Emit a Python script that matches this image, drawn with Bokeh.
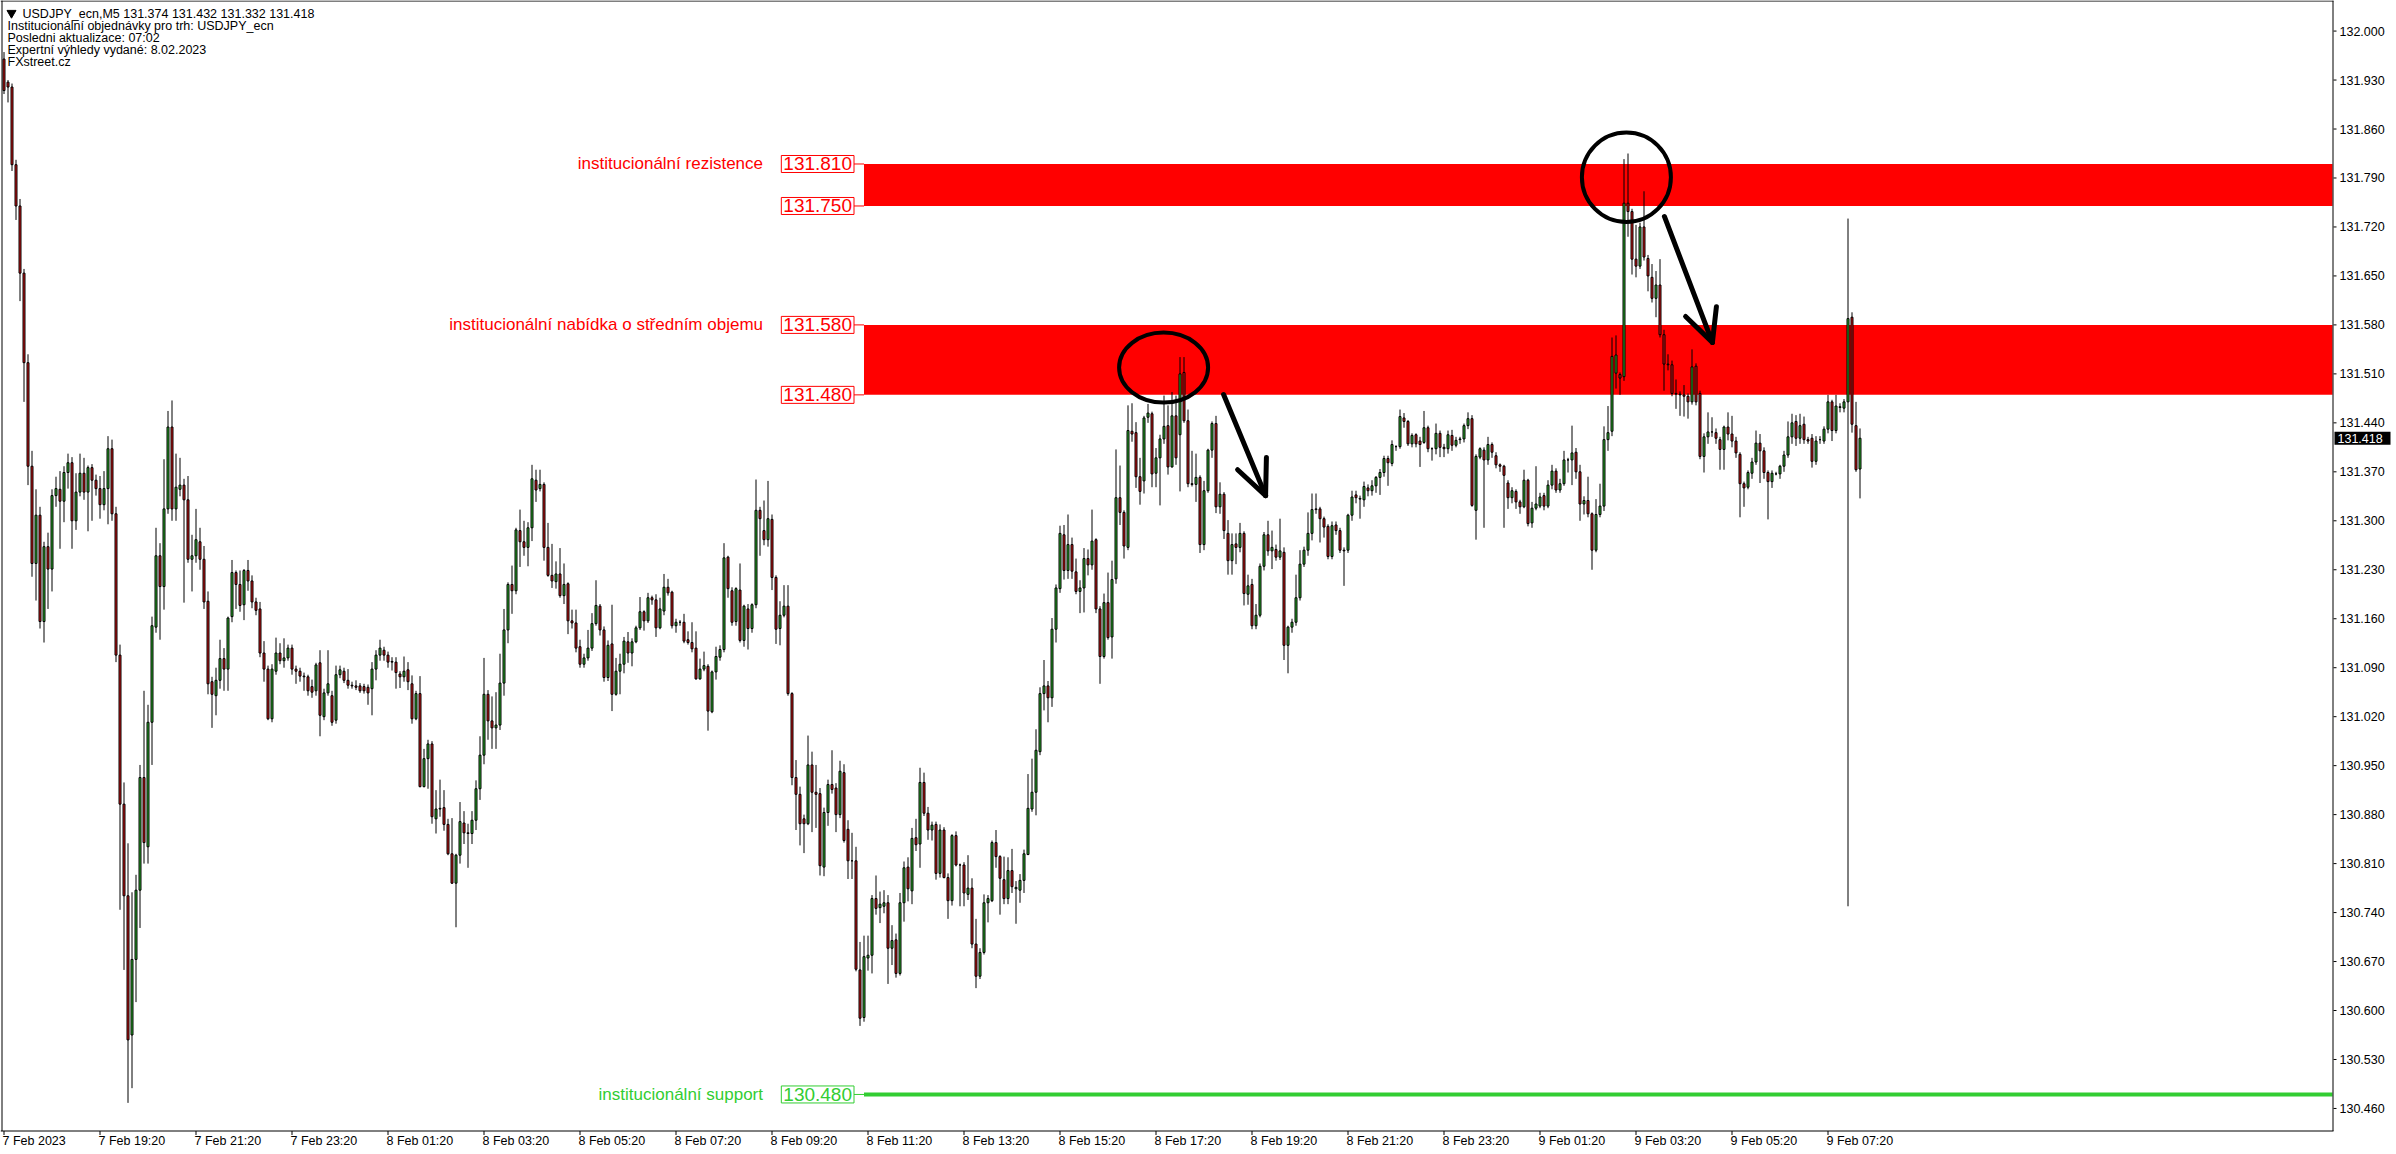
from bokeh.plotting import figure
from bokeh.models import Range1d, Label
from bokeh.core.properties import value
from bokeh.embed import file_html
from bokeh.resources import INLINE

# ---------------- data: USDJPY_ecn M5, bar index 0 = 7 Feb 17:20 ----------------
opens = [
    131.960, 131.927, 131.920, 131.809, 131.750, 131.654, 131.526, 131.378, 131.239, 131.308,
    131.156, 131.263, 131.231, 131.336, 131.345, 131.328, 131.369, 131.383, 131.300, 131.341,
    131.368, 131.341, 131.376, 131.358, 131.346, 131.323, 131.346, 131.403, 131.310, 131.108,
    130.895, 130.764, 130.565, 130.673, 130.772, 130.933, 130.834, 131.012, 131.148, 131.250,
    131.206, 131.317, 131.434, 131.317, 131.345, 131.351, 131.330, 131.245, 131.250, 131.270,
    131.245, 131.185, 131.070, 131.050, 131.072, 131.103, 131.088, 131.163, 131.226, 131.209,
    131.180, 131.229, 131.214, 131.184, 131.174, 131.111, 131.088, 131.017, 131.085, 131.111,
    131.100, 131.104, 131.118, 131.088, 131.085, 131.078, 131.077, 131.063, 131.057, 131.097,
    131.020, 131.054, 131.050, 131.015, 131.080, 131.085, 131.072, 131.065, 131.064, 131.064,
    131.063, 131.062, 131.060, 131.088, 131.108,
    131.115, 131.108, 131.099, 131.098, 131.081, 131.077, 131.087, 131.067, 131.017, 131.053,
    130.920, 130.960, 130.981, 130.874, 130.888, 130.890, 130.866, 130.824, 130.782, 130.822,
    130.868, 130.854, 130.853, 130.872, 130.917, 130.965, 131.052, 131.014, 131.004, 131.008,
    131.068, 131.144, 131.209, 131.200, 131.286, 131.270, 131.262, 131.290, 131.358, 131.346,
    131.352, 131.262, 131.222, 131.213, 131.224, 131.193, 131.210, 131.157, 131.154, 131.120,
    131.095, 131.104, 131.118, 131.153, 131.178, 131.144, 131.076, 131.124, 131.052, 131.085,
    131.095, 131.127, 131.111, 131.127, 131.147, 131.170, 131.157, 131.190, 131.187, 131.147,
    131.171, 131.205, 131.198, 131.150, 131.155, 131.155, 131.130, 131.126, 131.118, 131.074,
    131.088, 131.092, 131.027, 131.084, 131.105, 131.116, 131.248, 131.200, 131.156, 131.201,
    131.129, 131.174, 131.146, 131.180, 131.315,
    131.286, 131.273, 131.302, 131.219, 131.146, 131.165, 131.178, 131.053, 130.933, 130.909,
    130.874, 130.867, 130.951, 130.912, 130.910, 130.805, 130.883, 130.923, 130.918, 130.880,
    130.940, 130.859, 130.814, 130.814, 130.658, 130.590, 130.675, 130.679, 130.760, 130.747,
    130.749, 130.754, 130.689, 130.701, 130.653, 130.754, 130.805, 130.771, 130.847, 130.838,
    130.926, 130.882, 130.858, 130.866, 130.796, 130.858, 130.790, 130.757, 130.850, 130.808,
    130.808, 130.766, 130.775, 130.695, 130.649, 130.683, 130.754, 130.757, 130.840, 130.820,
    130.787, 130.760, 130.800, 130.774, 130.772, 130.786, 130.823, 130.888, 130.912, 130.970,
    131.053, 131.064, 131.047, 131.145, 131.203, 131.280, 131.229, 131.266, 131.227, 131.199,
    131.204, 131.246, 131.237, 131.273, 131.174, 131.106, 131.183, 131.134, 131.217, 131.333,
    131.312, 131.262, 131.428, 131.426, 131.363,
    131.357, 131.448, 131.453, 131.368, 131.390, 131.417, 131.436, 131.377, 131.450, 131.423,
    131.512, 131.443, 131.353, 131.352, 131.362, 131.266, 131.343, 131.401, 131.439, 131.320,
    131.338, 131.282, 131.243, 131.267, 131.262, 131.282, 131.195, 131.209, 131.150, 131.165,
    131.235, 131.280, 131.257, 131.259, 131.248, 131.255, 131.122, 131.148, 131.155, 131.190,
    131.238, 131.258, 131.282, 131.316, 131.317, 131.303, 131.292, 131.249, 131.294, 131.286,
    131.258, 131.258, 131.308, 131.337, 131.331, 131.330, 131.347, 131.343, 131.350, 131.362,
    131.369, 131.389, 131.382, 131.406, 131.406, 131.447, 131.442, 131.410, 131.423, 131.414,
    131.412, 131.433, 131.403, 131.403, 131.425, 131.405, 131.403, 131.422, 131.408, 131.416,
    131.417, 131.436, 131.446, 131.315, 131.391, 131.401, 131.387, 131.409, 131.393, 131.380,
    131.378, 131.354, 131.333, 131.342, 131.327,
    131.320, 131.358, 131.297, 131.318, 131.321, 131.336, 131.321, 131.351, 131.371, 131.344,
    131.353, 131.387, 131.387, 131.398, 131.370, 131.324, 131.329, 131.310, 131.258, 131.309,
    131.321, 131.416, 131.428, 131.511, 131.509, 131.506, 131.754, 131.742, 131.674, 131.664,
    131.720, 131.675, 131.648, 131.618, 131.637, 131.566, 131.524, 131.523, 131.482, 131.480,
    131.480, 131.478, 131.470, 131.521, 131.482, 131.392, 131.420, 131.427, 131.426, 131.416,
    131.402, 131.434, 131.424, 131.414, 131.395, 131.353, 131.348, 131.368, 131.384, 131.411,
    131.400, 131.369, 131.356, 131.367, 131.367, 131.378, 131.394, 131.420, 131.442, 131.418,
    131.438, 131.416, 131.418, 131.385, 131.416, 131.414, 131.431, 131.470, 131.429, 131.462,
    131.461, 131.470, 131.591, 131.436, 131.374,
]

highs = [
    131.970, 131.930, 131.925, 131.816, 131.760, 131.660, 131.538, 131.400, 131.345, 131.320,
    131.270, 131.283, 131.345, 131.363, 131.371, 131.378, 131.396, 131.391, 131.368, 131.396,
    131.390, 131.379, 131.381, 131.366, 131.364, 131.371, 131.421, 131.416, 131.320, 131.123,
    130.926, 130.839, 130.769, 130.794, 130.951, 131.057, 131.037, 131.163, 131.290, 131.268,
    131.388, 131.457, 131.472, 131.396, 131.390, 131.360, 131.364, 131.280, 131.317, 131.290,
    131.264, 131.199, 131.077, 131.090, 131.130, 131.118, 131.163, 131.244, 131.229, 131.229,
    131.231, 131.244, 131.222, 131.190, 131.184, 131.128, 131.093, 131.095, 131.133, 131.125,
    131.132, 131.123, 131.123, 131.093, 131.090, 131.083, 131.080, 131.073, 131.097, 131.115,
    131.060, 131.115, 131.057, 131.093, 131.093, 131.090, 131.088, 131.070, 131.072, 131.068,
    131.067, 131.066, 131.098, 131.115, 131.130,
    131.120, 131.113, 131.105, 131.105, 131.085, 131.106, 131.098, 131.079, 131.057, 131.078,
    130.974, 130.987, 130.985, 130.915, 130.930, 130.915, 130.874, 130.875, 130.824, 130.898,
    130.885, 130.867, 130.885, 130.929, 130.992, 131.104, 131.058, 131.049, 131.055, 131.110,
    131.174, 131.212, 131.236, 131.290, 131.316, 131.300, 131.298, 131.380, 131.373, 131.373,
    131.355, 131.297, 131.267, 131.242, 131.261, 131.239, 131.212, 131.173, 131.173, 131.130,
    131.110, 131.144, 131.168, 131.215, 131.181, 131.149, 131.129, 131.180, 131.104, 131.110,
    131.134, 131.141, 131.132, 131.150, 131.191, 131.172, 131.197, 131.193, 131.195, 131.190,
    131.224, 131.217, 131.200, 131.160, 131.158, 131.167, 131.142, 131.155, 131.142, 131.103,
    131.113, 131.095, 131.086, 131.120, 131.122, 131.268, 131.250, 131.205, 131.205, 131.239,
    131.180, 131.181, 131.182, 131.359, 131.320,
    131.329, 131.357, 131.309, 131.222, 131.185, 131.208, 131.208, 131.055, 130.958, 130.920,
    130.880, 130.993, 130.970, 130.951, 130.918, 130.890, 130.930, 130.972, 130.925, 130.957,
    130.952, 130.872, 130.854, 130.834, 130.698, 130.707, 130.707, 130.765, 130.793, 130.770,
    130.772, 130.765, 130.722, 130.710, 130.768, 130.813, 130.819, 130.861, 130.874, 130.947,
    130.940, 130.891, 130.870, 130.870, 130.866, 130.862, 130.796, 130.852, 130.856, 130.810,
    130.812, 130.822, 130.789, 130.731, 130.689, 130.766, 130.765, 130.843, 130.858, 130.822,
    130.820, 130.819, 130.831, 130.785, 130.795, 130.830, 130.938, 130.960, 131.002, 131.062,
    131.101, 131.071, 131.161, 131.209, 131.293, 131.294, 131.309, 131.276, 131.246, 131.215,
    131.261, 131.259, 131.316, 131.275, 131.178, 131.196, 131.226, 131.243, 131.402, 131.379,
    131.315, 131.465, 131.468, 131.441, 131.390,
    131.450, 131.467, 131.456, 131.404, 131.423, 131.479, 131.465, 131.484, 131.479, 131.534,
    131.534, 131.459, 131.400, 131.396, 131.365, 131.357, 131.403, 131.442, 131.450, 131.355,
    131.341, 131.301, 131.282, 131.282, 131.297, 131.285, 131.223, 131.217, 131.181, 131.239,
    131.284, 131.300, 131.286, 131.266, 131.303, 131.262, 131.150, 131.160, 131.223, 131.258,
    131.263, 131.312, 131.339, 131.339, 131.320, 131.306, 131.295, 131.299, 131.299, 131.290,
    131.262, 131.310, 131.343, 131.343, 131.336, 131.356, 131.352, 131.358, 131.364, 131.374,
    131.393, 131.393, 131.415, 131.408, 131.459, 131.454, 131.444, 131.425, 131.425, 131.420,
    131.457, 131.436, 131.405, 131.439, 131.429, 131.410, 131.429, 131.430, 131.420, 131.420,
    131.439, 131.455, 131.451, 131.395, 131.405, 131.405, 131.420, 131.412, 131.398, 131.382,
    131.380, 131.358, 131.348, 131.345, 131.330,
    131.373, 131.360, 131.327, 131.378, 131.340, 131.340, 131.358, 131.380, 131.375, 131.360,
    131.400, 131.390, 131.436, 131.404, 131.380, 131.335, 131.363, 131.312, 131.331, 131.353,
    131.435, 131.464, 131.562, 131.565, 131.512, 131.817, 131.825, 131.746, 131.723, 131.726,
    131.771, 131.680, 131.667, 131.657, 131.674, 131.573, 131.538, 131.529, 131.502, 131.485,
    131.494, 131.482, 131.545, 131.525, 131.486, 131.425, 131.455, 131.448, 131.432, 131.420,
    131.436, 131.455, 131.450, 131.420, 131.398, 131.356, 131.372, 131.390, 131.429, 131.424,
    131.405, 131.372, 131.372, 131.370, 131.380, 131.400, 131.442, 131.453, 131.451, 131.453,
    131.449, 131.420, 131.424, 131.421, 131.421, 131.435, 131.480, 131.473, 131.480, 131.468,
    131.474, 131.732, 131.598, 131.470, 131.432,
]

lows = [
    131.910, 131.898, 131.800, 131.730, 131.614, 131.470, 131.351, 131.220, 131.186, 131.146,
    131.126, 131.174, 131.199, 131.320, 131.260, 131.298, 131.346, 131.260, 131.287, 131.335,
    131.330, 131.285, 131.300, 131.336, 131.303, 131.315, 131.295, 131.300, 131.098, 130.744,
    130.658, 130.468, 130.489, 130.612, 130.718, 130.810, 130.810, 130.951, 131.140, 131.130,
    131.173, 131.310, 131.300, 131.300, 131.335, 131.183, 131.240, 131.199, 131.240, 131.230,
    131.174, 131.052, 131.004, 131.022, 131.060, 131.057, 131.057, 131.155, 131.174, 131.170,
    131.158, 131.200, 131.175, 131.165, 131.105, 131.070, 131.015, 131.012, 131.080, 131.095,
    131.090, 131.100, 131.080, 131.067, 131.070, 131.057, 131.050, 131.047, 131.050, 130.992,
    131.015, 131.050, 131.007, 131.010, 131.075, 131.068, 131.060, 131.060, 131.058, 131.054,
    131.053, 131.037, 131.022, 131.072, 131.100,
    131.100, 131.090, 131.086, 131.060, 131.061, 131.070, 131.058, 131.010, 131.015, 130.919,
    130.919, 130.917, 130.867, 130.853, 130.877, 130.857, 130.822, 130.781, 130.719, 130.810,
    130.838, 130.804, 130.838, 130.858, 130.901, 130.952, 130.987, 130.974, 130.974, 131.001,
    131.050, 131.125, 131.167, 131.195, 131.234, 131.250, 131.235, 131.271, 131.327, 131.342,
    131.243, 131.220, 131.204, 131.203, 131.190, 131.181, 131.138, 131.146, 131.112, 131.090,
    131.090, 131.100, 131.114, 131.150, 131.136, 131.070, 131.071, 131.028, 131.050, 131.052,
    131.082, 131.097, 131.092, 131.125, 131.144, 131.143, 131.154, 131.180, 131.134, 131.145,
    131.165, 131.193, 131.146, 131.140, 131.150, 131.125, 131.123, 131.112, 131.073, 131.073,
    131.085, 131.000, 131.025, 131.073, 131.100, 131.112, 131.190, 131.150, 131.150, 131.126,
    131.120, 131.116, 131.140, 131.175, 131.250,
    131.265, 131.263, 131.201, 131.124, 131.122, 131.162, 131.050, 130.922, 130.858, 130.836,
    130.825, 130.865, 130.855, 130.861, 130.793, 130.792, 130.864, 130.910, 130.855, 130.875,
    130.840, 130.788, 130.788, 130.656, 130.578, 130.584, 130.657, 130.653, 130.737, 130.725,
    130.739, 130.638, 130.665, 130.647, 130.650, 130.727, 130.756, 130.752, 130.828, 130.804,
    130.878, 130.844, 130.843, 130.787, 130.790, 130.789, 130.731, 130.750, 130.806, 130.749,
    130.749, 130.758, 130.689, 130.632, 130.645, 130.680, 130.726, 130.755, 130.804, 130.737,
    130.752, 130.752, 130.768, 130.724, 130.754, 130.768, 130.822, 130.884, 130.879, 130.965,
    131.029, 131.012, 131.034, 131.126, 131.197, 131.216, 131.217, 131.217, 131.195, 131.168,
    131.169, 131.222, 131.230, 131.168, 131.067, 131.103, 131.130, 131.103, 131.210, 131.294,
    131.246, 131.258, 131.413, 131.347, 131.323,
    131.339, 131.440, 131.348, 131.348, 131.322, 131.410, 131.366, 131.376, 131.380, 131.342,
    131.440, 131.348, 131.349, 131.327, 131.254, 131.258, 131.340, 131.390, 131.311, 131.310,
    131.274, 131.223, 131.223, 131.238, 131.255, 131.179, 131.180, 131.145, 131.145, 131.162,
    131.229, 131.250, 131.231, 131.243, 131.244, 131.101, 131.082, 131.140, 131.150, 131.186,
    131.234, 131.250, 131.272, 131.310, 131.269, 131.276, 131.245, 131.245, 131.280, 131.254,
    131.207, 131.254, 131.300, 131.325, 131.303, 131.320, 131.335, 131.336, 131.340, 131.337,
    131.363, 131.350, 131.378, 131.400, 131.403, 131.433, 131.407, 131.405, 131.405, 131.377,
    131.410, 131.398, 131.386, 131.395, 131.391, 131.391, 131.396, 131.400, 131.405, 131.410,
    131.412, 131.431, 131.320, 131.273, 131.388, 131.290, 131.380, 131.390, 131.375, 131.370,
    131.290, 131.317, 131.325, 131.317, 131.310,
    131.318, 131.292, 131.290, 131.315, 131.318, 131.315, 131.318, 131.345, 131.340, 131.340,
    131.350, 131.369, 131.351, 131.360, 131.300, 131.309, 131.305, 131.230, 131.255, 131.305,
    131.314, 131.400, 131.421, 131.489, 131.480, 131.500, 131.706, 131.652, 131.648, 131.660,
    131.672, 131.628, 131.612, 131.591, 131.562, 131.486, 131.515, 131.478, 131.460, 131.450,
    131.449, 131.446, 131.466, 131.465, 131.388, 131.369, 131.410, 131.420, 131.410, 131.373,
    131.373, 131.415, 131.405, 131.390, 131.305, 131.320, 131.345, 131.360, 131.380, 131.354,
    131.360, 131.302, 131.347, 131.365, 131.360, 131.370, 131.390, 131.410, 131.407, 131.410,
    131.410, 131.410, 131.376, 131.380, 131.410, 131.410, 131.425, 131.414, 131.425, 131.455,
    131.455, 130.749, 131.426, 131.370, 131.332,
]

closes = [
    131.915, 131.920, 131.809, 131.750, 131.654, 131.526, 131.378, 131.239, 131.308, 131.156,
    131.263, 131.231, 131.336, 131.346, 131.328, 131.369, 131.383, 131.300, 131.341, 131.368,
    131.341, 131.376, 131.358, 131.346, 131.323, 131.346, 131.403, 131.310, 131.108, 130.895,
    130.764, 130.558, 130.673, 130.772, 130.933, 130.840, 131.012, 131.150, 131.250, 131.206,
    131.317, 131.434, 131.317, 131.348, 131.351, 131.330, 131.245, 131.250, 131.273, 131.245,
    131.184, 131.067, 131.052, 131.072, 131.103, 131.088, 131.161, 131.226, 131.209, 131.179,
    131.229, 131.214, 131.184, 131.172, 131.111, 131.088, 131.017, 131.088, 131.111, 131.100,
    131.104, 131.118, 131.088, 131.085, 131.078, 131.077, 131.057, 131.055, 131.094, 131.022,
    131.054, 131.067, 131.012, 131.080, 131.087, 131.072, 131.065, 131.064, 131.062, 131.057,
    131.057, 131.054, 131.088, 131.108, 131.118,
    131.108, 131.098, 131.098, 131.083, 131.077, 131.085, 131.070, 131.017, 131.053, 130.920,
    130.960, 130.981, 130.877, 130.888, 130.889, 130.866, 130.824, 130.782, 130.822, 130.870,
    130.854, 130.853, 130.872, 130.917, 130.965, 131.052, 131.014, 131.004, 131.008, 131.068,
    131.144, 131.209, 131.200, 131.287, 131.270, 131.262, 131.290, 131.360, 131.344, 131.352,
    131.262, 131.222, 131.214, 131.224, 131.193, 131.209, 131.157, 131.154, 131.118, 131.095,
    131.104, 131.118, 131.153, 131.179, 131.144, 131.076, 131.122, 131.052, 131.085, 131.095,
    131.128, 131.111, 131.127, 131.147, 131.170, 131.157, 131.190, 131.187, 131.147, 131.174,
    131.205, 131.197, 131.150, 131.155, 131.155, 131.128, 131.126, 131.117, 131.074, 131.088,
    131.093, 131.028, 131.084, 131.106, 131.116, 131.247, 131.203, 131.155, 131.203, 131.129,
    131.178, 131.146, 131.180, 131.315, 131.303,
    131.273, 131.303, 131.219, 131.145, 131.165, 131.178, 131.053, 130.933, 130.909, 130.867,
    130.867, 130.951, 130.912, 130.909, 130.807, 130.883, 130.923, 130.916, 130.880, 130.942,
    130.843, 130.814, 130.814, 130.659, 130.589, 130.677, 130.679, 130.760, 130.746, 130.752,
    130.754, 130.689, 130.700, 130.653, 130.754, 130.804, 130.774, 130.846, 130.837, 130.926,
    130.882, 130.858, 130.865, 130.796, 130.858, 130.790, 130.757, 130.850, 130.808, 130.808,
    130.768, 130.775, 130.695, 130.649, 130.683, 130.754, 130.760, 130.840, 130.820, 130.789,
    130.760, 130.800, 130.777, 130.776, 130.786, 130.824, 130.889, 130.912, 130.972, 131.053,
    131.064, 131.047, 131.145, 131.204, 131.282, 131.229, 131.266, 131.228, 131.199, 131.204,
    131.246, 131.237, 131.271, 131.174, 131.106, 131.183, 131.133, 131.216, 131.333, 131.312,
    131.264, 131.429, 131.424, 131.363, 131.342,
    131.447, 131.454, 131.367, 131.390, 131.417, 131.435, 131.377, 131.450, 131.390, 131.510,
    131.443, 131.353, 131.352, 131.362, 131.266, 131.343, 131.401, 131.439, 131.320, 131.338,
    131.286, 131.243, 131.266, 131.262, 131.282, 131.196, 131.207, 131.150, 131.165, 131.235,
    131.280, 131.257, 131.262, 131.248, 131.257, 131.122, 131.148, 131.155, 131.190, 131.238,
    131.258, 131.282, 131.316, 131.317, 131.303, 131.291, 131.249, 131.293, 131.286, 131.258,
    131.257, 131.308, 131.334, 131.333, 131.332, 131.349, 131.343, 131.350, 131.362, 131.369,
    131.389, 131.383, 131.409, 131.406, 131.449, 131.442, 131.410, 131.422, 131.410, 131.409,
    131.433, 131.403, 131.403, 131.425, 131.405, 131.403, 131.423, 131.408, 131.415, 131.417,
    131.436, 131.446, 131.322, 131.392, 131.403, 131.387, 131.409, 131.398, 131.380, 131.378,
    131.365, 131.333, 131.343, 131.327, 131.320,
    131.358, 131.296, 131.318, 131.324, 131.334, 131.321, 131.351, 131.371, 131.344, 131.353,
    131.387, 131.387, 131.397, 131.370, 131.324, 131.329, 131.310, 131.258, 131.309, 131.321,
    131.416, 131.426, 131.535, 131.537, 131.504, 131.754, 131.742, 131.674, 131.664, 131.720,
    131.677, 131.650, 131.618, 131.637, 131.566, 131.524, 131.523, 131.482, 131.481, 131.481,
    131.478, 131.470, 131.520, 131.470, 131.392, 131.420, 131.427, 131.427, 131.418, 131.402,
    131.434, 131.424, 131.414, 131.397, 131.353, 131.347, 131.369, 131.384, 131.411, 131.400,
    131.369, 131.356, 131.368, 131.367, 131.378, 131.394, 131.420, 131.440, 131.418, 131.436,
    131.416, 131.414, 131.385, 131.414, 131.416, 131.431, 131.470, 131.429, 131.464, 131.463,
    131.470, 131.589, 131.438, 131.373, 131.418,
]

price_ticks = [130.460, 130.530, 130.600, 130.670, 130.740, 130.810, 130.880, 130.950,
               131.020, 131.090, 131.160, 131.230, 131.300, 131.370, 131.440, 131.510,
               131.580, 131.650, 131.720, 131.790, 131.860, 131.930, 132.000]

time_tick_bars = [0, 24, 48, 72, 96, 120, 144, 168, 192, 216, 240, 264, 288, 312,
                  336, 360, 384, 408, 432, 456]
time_tick_labels = ["7 Feb 2023", "7 Feb 19:20", "7 Feb 21:20", "7 Feb 23:20",
                    "8 Feb 01:20", "8 Feb 03:20", "8 Feb 05:20", "8 Feb 07:20",
                    "8 Feb 09:20", "8 Feb 11:20", "8 Feb 13:20", "8 Feb 15:20",
                    "8 Feb 17:20", "8 Feb 19:20", "8 Feb 21:20", "8 Feb 23:20",
                    "9 Feb 01:20", "9 Feb 03:20", "9 Feb 05:20", "9 Feb 07:20"]

zone_start_bar = 215
zone_bottoms = [131.750, 131.480]
zone_tops = [131.810, 131.580]
zone_names = ["institucionální rezistence", "institucionální nabídka o středním objemu"]
support_level = 130.480
support_name = "institucionální support"
last_price = 131.418

header_lines = [
    "USDJPY_ecn,M5  131.374 131.432 131.332 131.418",
    "Institucionální objednávky pro trh: USDJPY_ecn",
    "Posledni aktualizace: 07:02",
    "Expertní výhledy vydané: 8.02.2023",
    "FXstreet.cz",
]

# hand-drawn annotations (bar index, price)
circle_x = [289.9, 405.6]
circle_y = [131.519, 131.791]
circle_w = [22.25, 22.25]
circle_h = [0.100, 0.128]
arrow_xs = [[304.9, 315.4], [315.4, 315.6], [315.4, 308.4],
            [415.1, 427.1], [427.1, 428.1], [427.1, 420.4]]
arrow_ys = [[131.4805, 131.336], [131.336, 131.3905], [131.336, 131.373],
            [131.735, 131.555], [131.555, 131.606], [131.555, 131.592]]

# ---------------- styling / geometry ----------------
BULL = "#2DB42D"
BEAR = "#D41414"
ZONE_RED = "#FF0000"
SUP_GREEN = "#32CD32"
FONT = "Liberation Sans"
SMALL = "12.5px"

FIG_W, FIG_H = 2392, 1150
PX_PER_BAR = 4.0
PX_PER_UNIT = 699.6
X0 = -0.875
X1 = X0 + FIG_W / PX_PER_BAR
Y_TOP = 132.0437
Y_BOT = Y_TOP - FIG_H / PX_PER_UNIT


def xs(px):
    return X0 + px / PX_PER_BAR


def ys(py):
    return Y_TOP - py / PX_PER_UNIT


PLOT_R = 2332.5   # right edge of the price area (px)
PLOT_B = 1130.5   # bottom edge of the price area (px)

n = min(len(opens), len(highs), len(lows), len(closes))
bars = list(range(n))
tops = [max(opens[i], closes[i]) for i in bars]
bots = [min(opens[i], closes[i]) for i in bars]
fills = [BULL if closes[i] >= opens[i] else BEAR for i in bars]

p = figure(width=FIG_W, height=FIG_H, output_backend="svg", toolbar_location=None, tools="",
           x_range=Range1d(X0, X1), y_range=Range1d(Y_BOT, Y_TOP),
           x_axis_location=None, y_axis_location=None, min_border=0,
           background_fill_color="white", border_fill_color="white",
           outline_line_color=None)
p.grid.visible = False

# ---- zones and support ----
p.quad(left=[zone_start_bar] * len(zone_tops), right=[xs(PLOT_R - 0.5)] * len(zone_tops),
       bottom=zone_bottoms, top=zone_tops, fill_color=ZONE_RED, line_color=None)
p.segment(x0=[zone_start_bar], y0=[support_level], x1=[xs(PLOT_R - 0.5)], y1=[support_level],
          line_color=SUP_GREEN, line_width=4)

conn_dx = 10 / PX_PER_BAR
red_levels = zone_tops + zone_bottoms
p.segment(x0=[zone_start_bar - conn_dx] * len(red_levels), y0=red_levels,
          x1=[zone_start_bar] * len(red_levels), y1=red_levels,
          line_color=ZONE_RED, line_width=1)
p.segment(x0=[zone_start_bar - conn_dx], y0=[support_level], x1=[zone_start_bar],
          y1=[support_level], line_color=SUP_GREEN, line_width=1)

# ---- candles ----
p.segment(x0=bars, y0=lows[:n], x1=bars, y1=highs[:n], line_color="black", line_width=1)
p.vbar(x=bars, width=2 / PX_PER_BAR, top=tops, bottom=bots, fill_color=fills,
       line_color="black", line_width=1)

# ---- hand-drawn annotations ----
p.ellipse(x=circle_x, y=circle_y, width=circle_w, height=circle_h,
          fill_color=None, line_color="black", line_width=4)
p.multi_line(xs=arrow_xs, ys=arrow_ys, line_color="black", line_width=5, line_cap="round")

# ---- chart frame ----
p.segment(x0=[xs(0), xs(1.5), xs(PLOT_R), xs(0)],
          y0=[ys(0.5), ys(0), ys(0), ys(PLOT_B)],
          x1=[xs(PLOT_R + 0.5), xs(1.5), xs(PLOT_R), xs(PLOT_R + 0.5)],
          y1=[ys(0.5), ys(PLOT_B), ys(PLOT_B), ys(PLOT_B)],
          line_color="black", line_width=1)

# ---- price scale (right) ----
p.segment(x0=[xs(PLOT_R + 0.5)] * len(price_ticks), y0=price_ticks,
          x1=[xs(PLOT_R + 3.5)] * len(price_ticks), y1=price_ticks,
          line_color="black", line_width=1)
p.text(x=[xs(PLOT_R + 6.5)] * len(price_ticks), y=price_ticks,
       text=[f"{t:.3f}" for t in price_ticks], text_font=value(FONT),
       text_font_size=value(SMALL), text_color="black", text_align="left",
       text_baseline="middle")
p.quad(left=[xs(PLOT_R + 1.5)], right=[xs(PLOT_R + 57.5)],
       bottom=[last_price - 6.5 / PX_PER_UNIT], top=[last_price + 6.5 / PX_PER_UNIT],
       fill_color="black", line_color=None)
p.text(x=[xs(PLOT_R + 4.5)], y=[last_price], text=[f"{last_price:.3f}"],
       text_font=value(FONT), text_font_size=value(SMALL), text_color="white",
       text_align="left", text_baseline="middle")

# ---- time scale (bottom) ----
p.segment(x0=time_tick_bars, y0=[ys(PLOT_B)] * len(time_tick_bars),
          x1=time_tick_bars, y1=[ys(PLOT_B + 4)] * len(time_tick_bars),
          line_color="black", line_width=1)
p.text(x=time_tick_bars, y=[ys(1140.5)] * len(time_tick_bars), text=time_tick_labels,
       x_offset=-1.5, text_font=value(FONT), text_font_size=value(SMALL),
       text_color="black", text_align="left", text_baseline="middle")

# ---- level boxes and captions ----
for lvl in red_levels:
    p.add_layout(Label(x=zone_start_bar, y=lvl, x_offset=-10, text=f"{lvl:.3f}",
                       text_align="right", text_baseline="middle", text_font=FONT,
                       text_font_size="19px", text_color=ZONE_RED,
                       background_fill_color="white", border_line_color=ZONE_RED,
                       border_line_width=1, padding=2))
p.add_layout(Label(x=zone_start_bar, y=support_level, x_offset=-10, text=f"{support_level:.3f}",
                   text_align="right", text_baseline="middle", text_font=FONT,
                   text_font_size="19px", text_color=SUP_GREEN,
                   background_fill_color="white", border_line_color=SUP_GREEN,
                   border_line_width=1, padding=2))
for name, lvl in zip(zone_names, zone_tops):
    p.add_layout(Label(x=zone_start_bar, y=lvl, x_offset=-101, text=name,
                       text_align="right", text_baseline="middle", text_font=FONT,
                       text_font_size="17px", text_color=ZONE_RED))
p.add_layout(Label(x=zone_start_bar, y=support_level, x_offset=-101, text=support_name,
                   text_align="right", text_baseline="middle", text_font=FONT,
                   text_font_size="17px", text_color=SUP_GREEN))

# ---- header ----
p.scatter(x=[xs(11)], y=[ys(12.5)], marker="inverted_triangle", size=9,
          fill_color="black", line_color="black")
p.text(x=[xs(22)] + [xs(7)] * (len(header_lines) - 1),
       y=[ys(13 + 12 * k) for k in range(len(header_lines))],
       text=header_lines, text_font=value(FONT), text_font_size=value(SMALL),
       text_color="black", text_align="left", text_baseline="middle")

open("out.html", "w").write(file_html(p, INLINE))
